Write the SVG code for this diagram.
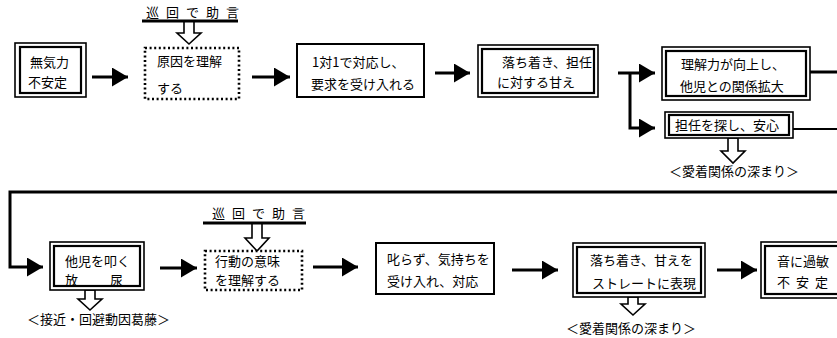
<svg xmlns="http://www.w3.org/2000/svg" width="837" height="338" viewBox="0 0 837 338">
<defs>
<marker id="ah" markerUnits="userSpaceOnUse" markerWidth="17" markerHeight="19" refX="16" refY="9.5" orient="auto">
<path d="M0,0 L16,9.5 L0,19 z" fill="#000"/>
</marker>
</defs>
<style>
text{font-family:"Noto Sans CJK JP","Noto Sans CJK SC",sans-serif;font-size:13px;fill:#000}
.o{fill:#fff;stroke:#000;stroke-width:1.6}
.i{fill:none;stroke:#000;stroke-width:2.2}
.s{fill:#fff;stroke:#000;stroke-width:2}
.d{fill:#fff;stroke:#000;stroke-width:2.6;stroke-dasharray:2 2.6}
.c{fill:none;stroke:#000;stroke-width:3}
.c2{fill:none;stroke:#000;stroke-width:2.2}
.h{fill:#fff;stroke:#000;stroke-width:1.6}
.u{stroke:#000;stroke-width:3}
.sp{letter-spacing:7px}
</style>
<rect width="837" height="338" fill="#fff"/>
<g id="connectors">
<line class="c" x1="92" y1="77" x2="128" y2="77" marker-end="url(#ah)"/>
<line class="c" x1="252" y1="77" x2="290" y2="77" marker-end="url(#ah)"/>
<line class="c" x1="435" y1="73" x2="470" y2="73" marker-end="url(#ah)"/>
<line class="c" x1="618" y1="73" x2="655" y2="73" marker-end="url(#ah)"/>
<polyline class="c" points="630,73 630,128 655,128" marker-end="url(#ah)"/>
<line class="c" x1="810" y1="72" x2="837" y2="72"/>
<line class="c2" x1="793" y1="129" x2="837" y2="129"/>
<polyline class="c" points="837,192 10,192 10,267 43,267" marker-end="url(#ah)"/>
<line class="c" x1="160" y1="268" x2="197" y2="268" marker-end="url(#ah)"/>
<line class="c" x1="313" y1="267" x2="358" y2="267" marker-end="url(#ah)"/>
<line class="c" x1="512" y1="270" x2="558" y2="270" marker-end="url(#ah)"/>
<line class="c" x1="717" y1="270" x2="757" y2="270" marker-end="url(#ah)"/>
<path class="h" d="M184,21 V33 H177 L189,44 L201,33 H194 V21 Z"/>
<path class="h" d="M252,223 V238 H245 L257,251 L269,238 H262 V223 Z"/>
<path class="h" d="M728,138 V151 H721 L733,163 L745,151 H738 V138 Z"/>
<path class="h" d="M85,290 V299 H78 L90,310 L102,299 H95 V290 Z"/>
<path class="h" d="M628,297 V304 H621 L633,315 L645,304 H638 V297 Z"/>
</g>
<g id="advice1">
<text x="146" y="17" class="sp">巡回で助言</text>
<line class="u" x1="142" y1="21" x2="238" y2="21"/>
</g>
<g id="advice2">
<text x="212" y="218" class="sp">巡回で助言</text>
<line class="u" x1="203" y1="223" x2="306" y2="223"/>
</g>
<g id="n1">
<rect class="o" x="15" y="43" width="71" height="54"/>
<rect class="i" x="20" y="47" width="61" height="46"/>
<text x="30" y="67">無気力</text>
<text x="28" y="87">不安定</text>
</g>
<g id="n2">
<rect class="d" x="145" y="48" width="94" height="51"/>
<text x="157" y="66">原因を理解</text>
<text x="157" y="93">する</text>
</g>
<g id="n3">
<rect class="s" x="297" y="44" width="127" height="53"/>
<text x="312" y="67">1対1で対応し、</text>
<text x="311" y="89">要求を受け入れる</text>
</g>
<g id="n4">
<rect class="o" x="478" y="45" width="120" height="52"/>
<rect class="i" x="482" y="49" width="112" height="44"/>
<text x="502" y="67">落ち着き、担任</text>
<text x="497" y="87">に対する甘え</text>
</g>
<g id="n5">
<rect class="o" x="662" y="47" width="148" height="53"/>
<rect class="i" x="666" y="51" width="140" height="45"/>
<text x="681" y="69">理解力が向上し、</text>
<text x="680" y="91">他児との関係拡大</text>
</g>
<g id="n6">
<rect class="o" x="665" y="112" width="128" height="26"/>
<rect class="i" x="669" y="115" width="120" height="20"/>
<text x="675" y="130">担任を探し、安心</text>
</g>
<text id="t1" x="669" y="176">＜愛着関係の深まり＞</text>
<g id="n7">
<rect class="o" x="50" y="242" width="94" height="48"/>
<rect class="i" x="54" y="246" width="86" height="40"/>
<text x="65" y="266">他児を叩く</text>
<text x="65" y="285">放</text>
<text x="110" y="285">尿</text>
</g>
<text id="t2" x="27" y="324">＜接近・回避動因葛藤＞</text>
<g id="n8">
<rect class="d" x="205" y="251" width="97" height="39"/>
<text x="215" y="266">行動の意味</text>
<text x="215" y="285">を理解する</text>
</g>
<g id="n9">
<rect class="s" x="376" y="243" width="118" height="51"/>
<text x="387" y="264">叱らず、気持ちを</text>
<text x="387" y="286">受け入れ、対応</text>
</g>
<g id="n10">
<rect class="o" x="573" y="243" width="132" height="54"/>
<rect class="i" x="577" y="247" width="124" height="46"/>
<text x="590" y="265">落ち着き、甘えを</text>
<text x="592" y="288">ストレートに表現</text>
</g>
<text id="t3" x="566" y="333">＜愛着関係の深まり＞</text>
<g id="n11">
<rect class="o" x="761" y="242" width="90" height="56"/>
<rect class="i" x="765" y="246" width="82" height="48"/>
<text x="777" y="266">音に過敏</text>
<text x="777" y="287" style="letter-spacing:6px">不安定</text>
</g>
</svg>
